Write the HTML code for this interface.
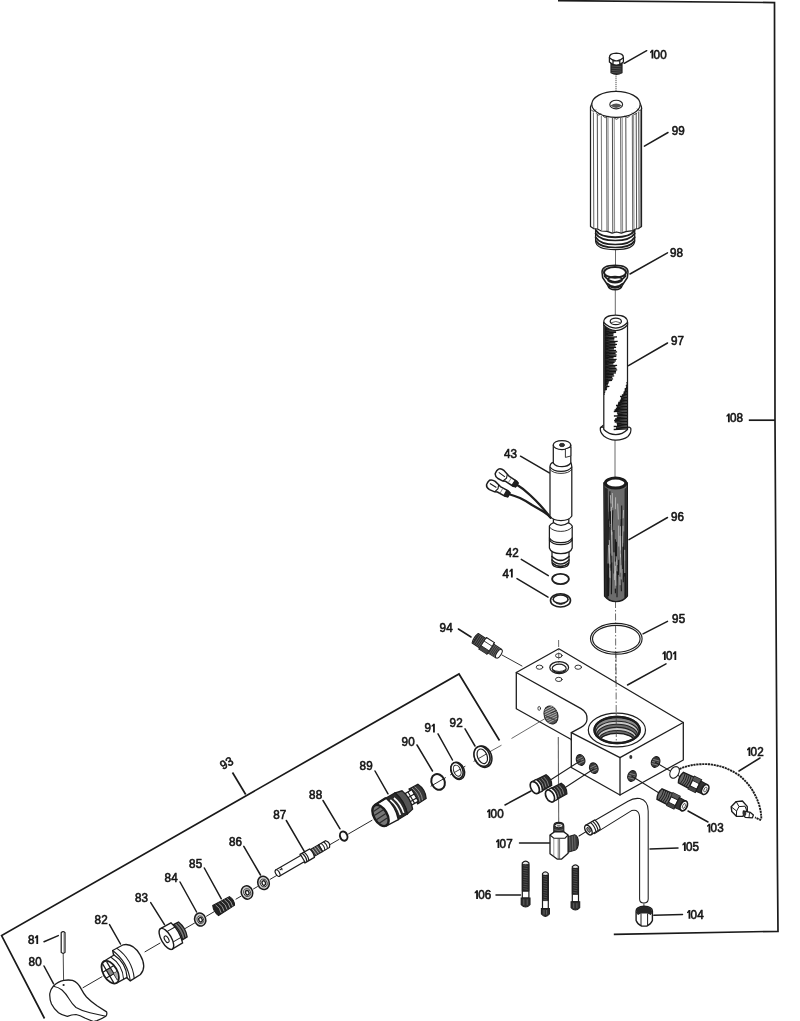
<!DOCTYPE html>
<html><head><meta charset="utf-8"><title>Parts diagram</title>
<style>
html,body{margin:0;padding:0;background:#fff;}
body{width:800px;height:1021px;overflow:hidden;font-family:"Liberation Sans",sans-serif;}
svg{display:block;stroke-width:1.25;filter:blur(0.35px)}
.tx text{font-family:"Liberation Sans",sans-serif;font-size:12.4px;fill:#161616;font-weight:normal;stroke:#161616;stroke-width:0.62;}
.tx path{fill:#161616;stroke:none}
.ld line{stroke:#1c1c1c;stroke-width:1.5;stroke-linecap:round}
.fr polyline,.fr line{stroke:#1a1a1a;stroke-width:1.7;fill:none;stroke-linejoin:miter}
.p{stroke:#1e1e1e;fill:#fff;stroke-linejoin:round;stroke-linecap:round}
.n{stroke:#1e1e1e;fill:none;stroke-linejoin:round;stroke-linecap:round}
.t{stroke:#333;stroke-width:0.7;fill:none;stroke-linecap:round}
.k{stroke:#1e1e1e;fill:#2a2a2a;stroke-linejoin:round}
.c{stroke:#444;stroke-width:0.8;fill:none}
.cd{stroke:#444;stroke-width:0.8;fill:none;stroke-dasharray:7 2 1.5 2}
</style></head>
<body>
<svg width="800" height="1021" viewBox="0 0 800 1021">
<rect width="800" height="1021" fill="#fff"/>

<g class="fr">
<polyline points="558,0.6 774.5,2.6 775,420 777.4,860 778,931.3 613.8,934.3"/>
<line x1="748.8" y1="420.2" x2="775" y2="420.2"/>
<polyline points="44.5,1018.5 1.6,935.6 459,674 499.5,740.5"/>
<line x1="232.5" y1="772.5" x2="245.7" y2="794.5"/>
</g>

<g class="c">
<line x1="616" y1="75.5" x2="616" y2="100" stroke-dasharray="1.3 0.8" stroke="#3a3a3a" stroke-width="0.9"/>
<line x1="615.5" y1="249" x2="615.5" y2="266"/>
<line x1="615.3" y1="289" x2="615.3" y2="315"/>
<line x1="615" y1="440" x2="615" y2="477"/>
<line x1="615.5" y1="601" x2="616" y2="740" class="cd"/>
</g>
<g>
<path class="k" d="M611,63 L611,72.8 Q616.5,75.9 622,72.8 L622,63 Z" stroke-width="1.2"/>
<g stroke="#777" stroke-width="0.5"><line x1="611.5" y1="66" x2="621.5" y2="66.8"/><line x1="611.5" y1="68.2" x2="621.5" y2="69.0"/><line x1="611.5" y1="70.4" x2="621.5" y2="71.2"/><line x1="611.5" y1="72.4" x2="621.5" y2="73.2"/></g>
<path class="p" d="M609.4,57.5 Q609.4,53.4 616.4,53.2 Q623.4,53.4 623.4,57.5 L623.4,62 Q620,65.2 616.4,65 Q612.6,65.2 609.4,62 Z"/>
<path class="n" d="M609.4,57.8 Q612.6,61 616.4,60.8 Q620,61 623.4,57.8 M613,60.4 L613,64.6 M619.8,60.4 L619.8,64.6"/>
</g>
<g>
<path class="p" d="M595.6,226 L595.6,241 Q596,249.6 615.2,249.6 Q634.4,249.6 634.7,241 L634.7,226 Z"/>
<path class="n" stroke-width="1.7" d="M595.6,233.5 Q600,240.5 615.2,240.5 Q630.4,240.5 634.7,233.5 M595.6,237.2 Q600,244.5 615.2,244.5 Q630.4,244.5 634.7,237.2 M596,241 Q600,247.5 615.2,247.5 Q630.4,247.5 634.4,241"/>
<path class="n" stroke-width="2" d="M596,230.5 Q600,237.2 615.2,237.2 Q630.4,237.2 634.4,230.5"/>
<path class="p" d="M592,103 L590.5,107 L590.5,226.5 L593.5,228.6 L597.4,229 L601.3,231 L607.2,231.4 L612.1,233.2 L616.5,232 L621.3,233.2 L625.8,231.6 L632.7,230.6 L635.6,229 L638.5,228.6 L641.5,226.5 L641.5,107 L640,103 Z"/>
<line x1="593.4" y1="112.5" x2="593.8" y2="228" stroke="#3a3a3a" stroke-width="0.8"/>
<line x1="597.3" y1="114.6" x2="597.6999999999999" y2="229" stroke="#3a3a3a" stroke-width="0.9"/>
<line x1="601.3" y1="116" x2="601.6999999999999" y2="230.5" stroke="#3a3a3a" stroke-width="0.7"/>
<line x1="606.6" y1="117.2" x2="607.0" y2="231" stroke="#3a3a3a" stroke-width="0.8"/>
<line x1="608.0" y1="117.4" x2="608.4" y2="231.2" stroke="#3a3a3a" stroke-width="0.6"/>
<line x1="612.4" y1="118" x2="612.8" y2="232.6" stroke="#3a3a3a" stroke-width="0.9"/>
<line x1="614.2" y1="118" x2="614.6" y2="232.6" stroke="#3a3a3a" stroke-width="0.6"/>
<line x1="620.6" y1="118" x2="621.0" y2="232.8" stroke="#3a3a3a" stroke-width="0.8"/>
<line x1="622.2" y1="117.8" x2="622.6" y2="232.6" stroke="#3a3a3a" stroke-width="0.6"/>
<line x1="625.8" y1="117.2" x2="626.1999999999999" y2="231.4" stroke="#3a3a3a" stroke-width="0.9"/>
<line x1="632.3" y1="115" x2="632.6999999999999" y2="230.4" stroke="#3a3a3a" stroke-width="0.8"/>
<line x1="633.6" y1="114.6" x2="634.0" y2="230" stroke="#3a3a3a" stroke-width="0.6"/>
<line x1="636.2" y1="113" x2="636.6" y2="229" stroke="#3a3a3a" stroke-width="0.9"/>
<line x1="638.7" y1="111.5" x2="639.1" y2="228.4" stroke="#3a3a3a" stroke-width="0.9"/>
<line x1="640.3" y1="110" x2="640.6999999999999" y2="227.5" stroke="#3a3a3a" stroke-width="0.7"/>
<ellipse class="p" cx="616" cy="104.3" rx="24.2" ry="13" stroke-width="1.2"/>
<path class="n" stroke-width="0.8" d="M591.3,109.9 Q593.5,113.1 595.7,109.9"/>
<path class="n" stroke-width="0.8" d="M596.4,113.60000000000001 Q598.6,116.8 600.8000000000001,113.60000000000001"/>
<path class="n" stroke-width="0.8" d="M603.3,116.2 Q605.5,119.39999999999999 607.7,116.2"/>
<path class="n" stroke-width="0.8" d="M614.3,117.80000000000001 Q616.5,121.0 618.7,117.80000000000001"/>
<path class="n" stroke-width="0.8" d="M625.1999999999999,116.0 Q627.4,119.19999999999999 629.6,116.0"/>
<path class="n" stroke-width="0.8" d="M632.4,113.0 Q634.6,116.19999999999999 636.8000000000001,113.0"/>
<path class="n" stroke-width="0.8" d="M637.4,109.0 Q639.6,112.19999999999999 641.8000000000001,109.0"/>
<ellipse cx="616.2" cy="104.6" rx="6.4" ry="4.3" fill="#fff" stroke="#222" stroke-width="1.1"/>
<path d="M610.4,105.6 Q616.2,101.5 622,105.6 Q616.2,110.4 610.4,105.6Z" fill="#555"/>
</g>
<g>
<path class="p" stroke-width="1.5" d="M602,272 Q602,265.2 615,265.2 Q628,265.2 628,272 L627.4,277.5 L622.4,285 Q621,289.8 615,289.8 Q609,289.8 607.6,285 L602.6,277.5 Z"/>
<ellipse class="n" cx="615" cy="272.4" rx="11" ry="5.4" stroke-width="2"/>
<path class="n" stroke-width="1.8" d="M604.4,276 Q609,281.8 615,281.8 Q621,281.8 625.6,276"/>
<ellipse class="n" cx="615" cy="279.6" rx="7.2" ry="3" stroke-width="1.7"/>
<path class="n" stroke-width="1.8" d="M607.4,283.6 Q611,287 615,287 Q619,287 622.6,283.6"/>
<path class="n" stroke-width="1.4" d="M609.4,286.4 Q615,289.6 620.6,286.4"/>
</g>
<g>
<path class="p" d="M600.4,428 Q599.6,432 603.8,436 Q609,440.2 616,440 Q623,440 628,436.4 Q631.6,432.5 630.8,428.4 Q629,426 627.4,428 L603.8,428 Q601.6,425.8 600.4,428Z"/>
<path class="p" d="M603.8,322.5 L603.8,429.5 Q609,434.6 615.7,434.6 Q622.4,434.6 627.5,429.5 L627.5,322.5 Z"/>
<path d="M604.2,327.0 L614.3,326.3 M604.2,328.5 L615.7,327.8 M604.2,330.0 L614.9,329.3 M604.2,331.5 L616.0,330.8 M604.2,333.0 L616.1,332.3 M604.2,334.5 L613.6,333.8 M604.2,336.0 L613.4,335.3 M604.2,337.5 L617.0,336.8 M604.2,339.0 L614.4,338.3 M604.2,340.5 L614.3,339.8 M604.2,342.0 L617.7,341.3 M604.2,343.5 L615.4,342.8 M604.2,345.0 L617.0,344.3 M604.2,346.5 L615.4,345.8 M604.2,348.0 L616.1,347.3 M604.2,349.5 L614.0,348.8 M604.2,351.0 L616.1,350.3 M604.2,352.5 L617.1,351.8 M604.2,354.0 L615.6,353.3 M604.2,355.5 L616.6,354.8 M604.2,357.0 L616.3,356.3 M604.2,358.5 L613.6,357.8 M604.2,360.0 L616.6,359.3 M604.2,361.5 L615.9,360.8 M604.2,363.0 L614.6,362.3 M604.2,364.5 L613.4,363.8 M604.2,366.0 L617.1,365.3 M604.2,367.5 L615.4,366.8 M604.2,369.0 L616.5,368.3 M604.2,370.5 L617.2,369.8 M604.2,372.0 L616.1,371.3 M604.2,373.5 L616.0,372.8 M604.2,375.0 L613.7,374.3 M604.2,376.5 L614.2,375.8 M604.2,378.0 L612.3,377.3 M604.2,379.5 L613.1,378.8 M604.2,381.0 L612.1,380.3 M604.2,382.5 L609.0,381.8 M604.2,384.0 L608.4,383.3 M604.2,385.5 L607.9,384.8 M604.2,387.0 L609.4,386.3 M604.2,388.5 L607.1,387.8 M604.2,390.0 L606.9,389.3 M604.2,391.5 L605.2,390.8 M604.2,393.0 L605.0,392.3 M604.2,394.5 L604.5,393.8" stroke="#151515" stroke-width="1.35" fill="none"/>
<path d="M626.6,383.0 L627.2,382.4 M626.5,384.5 L627.2,383.9 M625.8,386.0 L627.2,385.4 M625.9,387.5 L627.2,386.9 M624.7,389.0 L627.2,388.4 M624.6,390.5 L627.2,389.9 M623.7,392.0 L627.2,391.4 M623.3,393.5 L627.2,392.9 M621.9,395.0 L627.2,394.4 M620.0,396.5 L627.2,395.9 M621.0,398.0 L627.2,397.4 M620.5,399.5 L627.2,398.9 M619.7,401.0 L627.2,400.4 M618.2,402.5 L627.2,401.9 M617.9,404.0 L627.2,403.4 M616.0,405.5 L627.2,404.9 M616.8,407.0 L627.2,406.4 M615.8,408.5 L627.2,407.9 M614.6,410.0 L627.2,409.4 M613.8,411.5 L627.2,410.9 M616.9,413.0 L627.2,412.4 M617.5,414.5 L627.2,413.9 M613.9,416.0 L627.2,415.4 M616.7,417.5 L627.2,416.9 M615.1,419.0 L627.2,418.4 M614.1,420.5 L627.2,419.9 M614.7,422.0 L627.2,421.4 M616.6,423.5 L627.2,422.9 M617.0,425.0 L627.2,424.4 M613.7,426.5 L627.2,425.9 M616.0,428.0 L627.2,427.4 M613.7,429.5 L627.2,428.9" stroke="#151515" stroke-width="1.35" fill="none"/>
<path class="p" d="M603.8,322.5 Q603.8,315.2 615.7,315.2 Q627.5,315.2 627.5,322.5 L627.5,325 Q622.4,330.5 615.7,330.5 Q609,330.5 603.8,325 Z"/>
<path class="n" d="M603.8,322.5 Q609,328 615.7,328 Q622.4,328 627.5,322.5"/>
<ellipse class="p" cx="615.8" cy="321.4" rx="5.6" ry="3.3" stroke-width="1.3"/>
<path class="n" stroke-width="0.7" d="M611.4,322.6 Q615.8,320.2 620.2,322.6"/>
<path class="n" d="M600.4,428 L603,425.4"/>
</g>
<g>
<path d="M603.9,483 L604.6,596 Q609,601.6 616,601.6 Q623,601.6 627.4,596 L627.3,483 Z" fill="#6c6c6c" stroke="#1b1b1b" stroke-width="1.4"/>
<path d="M604.6,487 L605.2,596 Q606.6,598 608.4,599 L607.8,489Z" fill="#262626"/>
<path d="M626.8,487 L626.8,596 Q625.6,598 624.4,598.8 L624.6,489Z" fill="#2c2c2c"/>
<path d="M615.4,539.3 L615.3,581.8 M616.4,541.7 L616.4,559.8 M618.7,559.8 L618.3,574.9 M608.7,561.2 L607.9,596.1 M625.2,574.9 L625.4,598.0 M609.9,491.3 L609.2,520.8 M610.5,511.3 L610.5,524.3 M615.1,564.1 L615.4,593.3 M616.2,548.3 L615.9,575.4 M625.5,577.6 L625.8,598.0 M612.8,510.2 L612.1,531.7 M621.2,525.2 L621.0,565.2 M624.7,564.6 L624.3,576.6 M623.8,531.4 L623.7,575.7 M608.4,545.4 L608.0,583.1 M608.6,519.3 L609.0,563.1 M609.2,511.7 L608.5,527.0 M621.7,505.6 L621.7,536.1 M610.5,554.4 L610.8,570.7 M609.2,527.0 L608.8,546.1 M625.0,560.7 L625.6,582.7 M610.9,524.7 L611.1,564.9 M608.9,577.1 L608.5,596.1 M621.3,518.9 L620.6,540.7 M608.7,541.3 L608.8,561.3 M613.9,529.9 L613.9,573.5 M617.6,566.3 L617.1,584.3 M623.8,562.0 L623.3,582.2 M620.7,572.8 L621.4,591.2 M623.3,543.1 L622.7,569.0 M607.7,574.7 L608.0,594.6 M611.8,562.5 L611.4,594.2 M610.2,553.4 L609.8,567.7 M617.3,565.0 L617.0,597.3" stroke="#1a1a1a" stroke-width="1.1" fill="none"/>
<path d="M623.6,510.0 L623.2,518.3 M615.6,497.3 L615.4,509.2 M617.7,503.6 L618.4,519.5 M624.7,549.8 L624.8,573.0 M610.4,495.1 L611.0,503.5 M619.9,576.7 L620.1,585.2 M616.2,556.3 L617.0,571.3 M609.3,540.1 L609.9,564.3 M620.5,553.9 L621.2,579.4 M614.0,552.3 L614.6,580.1 M615.1,561.6 L615.2,588.6 M618.6,525.6 L618.8,546.5 M609.4,548.3 L610.0,578.1 M620.4,526.2 L620.5,550.4 M615.5,565.8 L615.9,575.6 M608.5,544.9 L608.1,563.5 M619.9,535.8 L620.5,557.3 M612.3,493.0 L612.6,507.6 M611.4,506.9 L611.7,534.9 M615.5,570.5 L615.8,585.7 M611.4,529.9 L612.0,555.7 M623.0,525.8 L622.7,546.7" stroke="#c4c4c4" stroke-width="0.8" fill="none"/>
<ellipse cx="615.6" cy="483.1" rx="10.3" ry="5" fill="#fff" stroke="#1b1b1b" stroke-width="3"/>
</g>
<ellipse class="n" cx="616.3" cy="638.8" rx="25.8" ry="15.4" stroke-width="1.15"/>
<ellipse class="n" cx="616.3" cy="638.8" rx="23.8" ry="13.5" stroke-width="1.15"/><g>
<path class="n" stroke-width="2.3" d="M516.5,484.5 Q524,489 530,495 Q536,500.6 540,505 Q545,510.6 550.6,517.6"/>
<path class="n" stroke-width="2.3" d="M508.5,494 Q515,496 520,498 Q527,501.4 532,505 Q539,509 544,512 Q548,514.6 550.6,517.6"/>
<g transform="translate(517.4,485.2) rotate(33)"><path d="M-24.6,-3.2 Q-23,-5.4 -19,-5 L-14.4,-3.8 L-12,-3 L-3,-3 L-0.6,-2.2 L-0.6,2.4 L-3,3.2 L-12,3.2 L-14.4,4.4 L-20,5 Q-24,4.8 -25,2 Q-25.6,-1 -24.6,-3.2Z" fill="#fff" stroke="#1c1c1c" stroke-width="1.5" stroke-linejoin="round"/><path d="M-22.6,-0.6 L-15,-0.2 M-14.4,-3.8 L-13,0 L-14.4,4.4" fill="none" stroke="#1c1c1c" stroke-width="1.1"/><path d="M-4.6,-3 L-0.6,-2.2 L-0.6,2.4 L-4.6,3.2Z" fill="#222" stroke="#1c1c1c" stroke-width="1"/><path d="M-9,-3 L-9,3.2" stroke="#666" stroke-width="0.7"/></g>
<g transform="translate(509.4,495) rotate(29)"><path d="M-24.6,-3.2 Q-23,-5.4 -19,-5 L-14.4,-3.8 L-12,-3 L-3,-3 L-0.6,-2.2 L-0.6,2.4 L-3,3.2 L-12,3.2 L-14.4,4.4 L-20,5 Q-24,4.8 -25,2 Q-25.6,-1 -24.6,-3.2Z" fill="#fff" stroke="#1c1c1c" stroke-width="1.5" stroke-linejoin="round"/><path d="M-22.6,-0.6 L-15,-0.2 M-14.4,-3.8 L-13,0 L-14.4,4.4" fill="none" stroke="#1c1c1c" stroke-width="1.1"/><path d="M-4.6,-3 L-0.6,-2.2 L-0.6,2.4 L-4.6,3.2Z" fill="#222" stroke="#1c1c1c" stroke-width="1"/><path d="M-9,-3 L-9,3.2" stroke="#666" stroke-width="0.7"/></g>
<path class="p" d="M552,549 L552,562 Q552,567.6 560.5,567.6 Q569,567.6 569,562 L569,549 Z"/>
<path class="n" stroke-width="1.7" d="M552,556.5 Q556,560.4 560.5,560.4 Q565,560.4 569,556.5 M552,560 Q556,564 560.5,564 Q565,564 569,560 M552.4,563 Q556,566.4 560.5,566.4 Q565,566.4 568.6,563"/>
<path class="p" d="M549.4,526 L549.4,548 Q551,553.6 560.8,553.6 Q570.6,553.6 572.2,548 L572.2,526 Q570,521.6 560.8,521.6 Q551.6,521.6 549.4,526Z"/>
<path class="n" d="M549.4,538 Q552,542.6 560.8,542.6 Q569.6,542.6 572.2,538 M549.4,540 Q552,544.6 560.8,544.6 Q569.6,544.6 572.2,540" stroke-width="1.3"/>
<path class="n" d="M549.4,527 Q553,531.4 560.8,531.4 Q568.6,531.4 572.2,527" stroke-width="0.9"/>
<path class="p" d="M553.4,516 L553.4,522.6 Q557,525.4 561,525.4 Q565,525.4 568.8,522.6 L568.8,516Z"/>
<path class="p" d="M550,467 L550,516 Q553,520.6 561,520.6 Q569,520.6 571.8,516 L571.8,467 Z"/>
<path class="n" d="M550,469.4 Q553,473.4 561,473.4 Q569,473.4 571.8,469.4" stroke-width="0.9"/>
<path class="p" d="M550,467 Q550,463 553.4,462.4 L570.6,462.4 Q571.8,464 571.8,467 Q569,471.4 561,471.4 Q553,471.4 550,467Z"/>
<path class="p" d="M553.3,445 L553.3,463 Q556,466.6 562,466.6 Q568,466.6 570.8,463 L570.8,445 Z"/>
<ellipse class="p" cx="562" cy="445" rx="8.75" ry="4.5"/>
<ellipse cx="562" cy="445" rx="2.6" ry="1.7" fill="#333" stroke="#222" stroke-width="0.8"/>
<path class="p" d="M565.4,449.2 L565.4,457.4 L570.8,456 L570.8,447.4Z" stroke-width="0.9"/>
</g>
<ellipse class="n" cx="560.5" cy="579" rx="8.4" ry="5.1" stroke-width="1.9"/>
<ellipse class="p" cx="560.5" cy="600.4" rx="10" ry="6.6" stroke-width="1.6"/>
<ellipse class="n" cx="560.6" cy="599.2" rx="7.4" ry="4.2" stroke-width="1.5"/>
<path class="n" d="M552.8,600 Q556,604.6 560.6,604.6 Q565,604.6 568.4,600" stroke-width="0.9"/>
<line class="n" x1="502" y1="655" x2="522" y2="666" stroke-width="0.9"/>
<g transform="translate(487.8,646.5) rotate(33) scale(0.86)">
<path class="p" d="M-17.5,-6.6 L-7,-6.6 L-7,-8 L4,-8 L4,-6 L15,-6 Q18,0 15,6 L4,6 L4,8 L-7,8 L-7,6.6 L-17.5,6.6 Q-20,0 -17.5,-6.6Z"/>
<path d="M-17,-6.4 L-7,-6.4 L-7,6.4 L-17,6.4 Q-19.4,0 -17,-6.4Z" fill="#2a2a2a"/>
<path d="M4,-5.8 L13,-5.8 L13,5.8 L4,5.8Z" fill="#333"/>
<g stroke="#888" stroke-width="0.6"><line x1="-15" y1="-6" x2="-15" y2="6"/><line x1="-12.8" y1="-6" x2="-12.8" y2="6"/><line x1="-10.6" y1="-6" x2="-10.6" y2="6"/><line x1="-8.6" y1="-6" x2="-8.6" y2="6"/><line x1="6" y1="-6" x2="6" y2="6"/><line x1="8" y1="-6" x2="8" y2="6"/><line x1="10" y1="-6" x2="10" y2="6"/><line x1="12" y1="-6" x2="12" y2="6"/></g>
<path d="M-7,3.4 L4,3.4 L4,8 L-7,8Z" fill="#444"/>
<path class="n" d="M-7,-8 L-7,8 M4,-8 L4,8 M-7,-3 L4,-3 M-7,3.4 L4,3.4" stroke-width="0.9"/>
<ellipse class="p" cx="15.4" cy="0" rx="2.6" ry="5.8"/>
</g>
<g>
<path d="M558.8,648.8 L516.3,672.5 L516.3,708.8 L571.3,739.5 L571.3,767.5 L620,795 L683.3,760 L683.3,722.5 Z" fill="#fff" stroke="none"/>
<path class="n" stroke-width="1.3" d="M558.8,648.8 L516.3,672.5 L516.3,708.8 L571.3,739.5 L571.3,767.5 L620,795 L683.3,760 L683.3,722.5 Z"/>
<path class="n" stroke-width="1.3" d="M516.3,672.5 L581,708.6 Q587.6,712.4 587,719.5 Q586.6,724.4 581,727.4 L571.3,732.6 L620,757.6 L683.3,722.5"/>
<path class="n" stroke-width="1.3" d="M571.3,732.6 L571.3,740 M620,757.6 L620,795"/>
<ellipse class="p" cx="616.9" cy="730" rx="28.6" ry="16.9" stroke-width="1.2"/>
<ellipse cx="617.1" cy="730" rx="22.6" ry="13" fill="#fff" stroke="#1c1c1c" stroke-width="2.3"/>
<clipPath id="bc"><ellipse cx="617.1" cy="730" rx="21.6" ry="12"/></clipPath>
<g clip-path="url(#bc)">
<rect x="590" y="714" width="56" height="24" fill="#8a8a8a"/>
<ellipse cx="617.1" cy="732.6" rx="21.4" ry="11.4" fill="#c8c8c8" stroke="#222" stroke-width="1.1"/>
<ellipse cx="617.1" cy="735.2" rx="20.5" ry="10.9" fill="#6a6a6a" stroke="#222" stroke-width="1.1"/>
<ellipse cx="617.1" cy="737.8000000000001" rx="19.599999999999998" ry="10.4" fill="#c8c8c8" stroke="#222" stroke-width="1.1"/>
<ellipse cx="617.1" cy="740.4" rx="18.7" ry="9.9" fill="#6a6a6a" stroke="#222" stroke-width="1.1"/>
<ellipse cx="617.1" cy="743.0" rx="17.799999999999997" ry="9.4" fill="#c8c8c8" stroke="#222" stroke-width="1.1"/>
<ellipse cx="617" cy="741" rx="17.2" ry="7.6" fill="#fff" stroke="#1c1c1c" stroke-width="1.4"/>
</g>
<ellipse cx="617.1" cy="730" rx="22.6" ry="13" fill="none" stroke="#1c1c1c" stroke-width="2.3"/>
<ellipse class="p" cx="559.2" cy="667.6" rx="9.4" ry="6"/>
<ellipse class="n" cx="559.2" cy="668.4" rx="7" ry="4.2" stroke-width="1.2"/>
<path class="n" stroke-width="0.9" d="M552.6,669.6 Q559,673.6 565.8,669.6"/>
<ellipse class="p" cx="558.8" cy="655.6" rx="3.3" ry="2.1" stroke-width="0.9"/>
<ellipse class="p" cx="539.5" cy="667.2" rx="3.3" ry="2.1" stroke-width="0.9"/>
<ellipse class="p" cx="578.2" cy="667.2" rx="3.3" ry="2.1" stroke-width="0.9"/>
<ellipse class="p" cx="558.8" cy="679.4" rx="3.3" ry="2.1" stroke-width="0.9"/>
<ellipse cx="551" cy="715" rx="6.8" ry="9.2" fill="#555" stroke="#222" stroke-width="1.1" transform="rotate(-18 551 715)"/>
<g stroke="#ddd" stroke-width="0.6" transform="rotate(-18 551 715)"><line x1="546.1" y1="708.4" x2="555.9" y2="706.8"/><line x1="545.6" y1="710.6" x2="556.4" y2="709.0"/><line x1="545.1" y1="712.8" x2="556.9" y2="711.1999999999999"/><line x1="544.6" y1="715.0" x2="557.4" y2="713.4"/><line x1="545.1" y1="717.2" x2="556.9" y2="715.6"/><line x1="545.6" y1="719.4" x2="556.4" y2="717.8"/><line x1="546.1" y1="721.6" x2="555.9" y2="720.0"/></g>
<path class="n" stroke="#eee" stroke-width="0.7" d="M546,716 L555,720 M551,713 L556,711"/>
<ellipse class="p" cx="539.2" cy="708.4" rx="1.3" ry="2" stroke-width="0.8"/>
<g transform="rotate(-20 580.6 760)"><ellipse cx="580.6" cy="760" rx="4.1" ry="5.4" fill="#3a3a3a" stroke="#1c1c1c" stroke-width="1.2"/><line x1="577.5" y1="758.4" x2="583.7" y2="757.8" stroke="#aaa" stroke-width="0.6"/><line x1="577.1" y1="760.6" x2="584.1" y2="760" stroke="#aaa" stroke-width="0.6"/><line x1="577.5" y1="762.8" x2="583.7" y2="762.2" stroke="#aaa" stroke-width="0.6"/></g>
<g transform="rotate(-20 593.8 768.2)"><ellipse cx="593.8" cy="768.2" rx="4.1" ry="5.4" fill="#3a3a3a" stroke="#1c1c1c" stroke-width="1.2"/><line x1="590.6999999999999" y1="766.6" x2="596.9" y2="766.0" stroke="#aaa" stroke-width="0.6"/><line x1="590.3" y1="768.8000000000001" x2="597.3" y2="768.2" stroke="#aaa" stroke-width="0.6"/><line x1="590.6999999999999" y1="771.0" x2="596.9" y2="770.4000000000001" stroke="#aaa" stroke-width="0.6"/></g>
<g transform="rotate(20 655.6 762)"><ellipse cx="655.6" cy="762" rx="4.1" ry="5.4" fill="#3a3a3a" stroke="#1c1c1c" stroke-width="1.2"/><line x1="652.5" y1="760.4" x2="658.7" y2="759.8" stroke="#aaa" stroke-width="0.6"/><line x1="652.1" y1="762.6" x2="659.1" y2="762" stroke="#aaa" stroke-width="0.6"/><line x1="652.5" y1="764.8" x2="658.7" y2="764.2" stroke="#aaa" stroke-width="0.6"/></g>
<g transform="rotate(20 632 776)"><ellipse cx="632" cy="776" rx="4.1" ry="5.4" fill="#3a3a3a" stroke="#1c1c1c" stroke-width="1.2"/><line x1="628.9" y1="774.4" x2="635.1" y2="773.8" stroke="#aaa" stroke-width="0.6"/><line x1="628.5" y1="776.6" x2="635.5" y2="776" stroke="#aaa" stroke-width="0.6"/><line x1="628.9" y1="778.8" x2="635.1" y2="778.2" stroke="#aaa" stroke-width="0.6"/></g>
<ellipse cx="630.8" cy="757" rx="1.5" ry="1.9" fill="#333"/>
</g>
<g class="c">
<line x1="616" y1="655" x2="616.3" y2="742" class="cd"/>
<line x1="558.6" y1="640" x2="558.8" y2="664" class="cd"/>
<line x1="558.3" y1="737" x2="558.7" y2="822" stroke-width="1.1" stroke="#666"/>
<line x1="546" y1="718" x2="511.5" y2="738.5"/>
<line x1="501.5" y1="745.2" x2="490" y2="751.6"/>
</g><g class="n" stroke-width="1.05">
<line x1="550.4" y1="780" x2="580.4" y2="760.8"/>
<line x1="566" y1="787" x2="594" y2="768.8"/>
<line x1="655.4" y1="762.2" x2="680" y2="776.6"/>
<line x1="631.6" y1="776" x2="659" y2="793"/>
<line x1="579" y1="836" x2="586.5" y2="831.4"/>
</g>
<g transform="translate(534.8,787.6) rotate(-28)"><path d="M4,-6.4 L16,-6 Q19.4,0 16,6 L4,6.4Z" fill="#2a2a2a" stroke="#1c1c1c" stroke-width="1.2"/><g stroke="#999" stroke-width="0.7"><path d="M7.4,-5 Q9.4,0 7.4,5" fill="none"/><path d="M10.2,-5 Q12.2,0 10.2,5" fill="none"/><path d="M13,-5 Q15,0 13,5" fill="none"/></g><path d="M0,-6.5 L5,-6.5 Q8.6,0 5,6.5 L0,6.5Z" fill="#fff" stroke="#1c1c1c" stroke-width="1.3"/><ellipse cx="0" cy="0" rx="3.9" ry="6.5" fill="#fff" stroke="#1c1c1c" stroke-width="1.7"/></g>
<g transform="translate(550,796) rotate(-28)"><path d="M4,-6.4 L16,-6 Q19.4,0 16,6 L4,6.4Z" fill="#2a2a2a" stroke="#1c1c1c" stroke-width="1.2"/><g stroke="#999" stroke-width="0.7"><path d="M7.4,-5 Q9.4,0 7.4,5" fill="none"/><path d="M10.2,-5 Q12.2,0 10.2,5" fill="none"/><path d="M13,-5 Q15,0 13,5" fill="none"/></g><path d="M0,-6.5 L5,-6.5 Q8.6,0 5,6.5 L0,6.5Z" fill="#fff" stroke="#1c1c1c" stroke-width="1.3"/><ellipse cx="0" cy="0" rx="3.9" ry="6.5" fill="#fff" stroke="#1c1c1c" stroke-width="1.7"/></g>
<g>
<path d="M553.8,826 L553.8,838 L563.8,838 L563.8,826 Q563.8,822.4 558.8,822.4 Q553.8,822.4 553.8,826Z" fill="#333" stroke="#1c1c1c" stroke-width="1.1"/>
<path d="M554.4,829.6 Q558.8,831.6 563.2,829.6 M554.4,832.4 Q558.8,834.4 563.2,832.4" stroke="#888" stroke-width="0.6" fill="none"/>
<ellipse cx="558.8" cy="825.6" rx="4" ry="2.2" fill="#e8e8e8" stroke="#1c1c1c" stroke-width="1"/>
<ellipse cx="558.8" cy="825.8" rx="2" ry="1" fill="#777"/>
<path d="M567,837 L574.6,834.8 Q578.4,836 578.4,842.6 Q578.4,848.4 575.4,850 L567,852.6Z" fill="#3a3a3a" stroke="#1c1c1c" stroke-width="1.1"/>
<path d="M569.6,836.6 L570.2,851.4 M572.2,835.8 L572.8,850.6 M574.6,835.4 L575.2,849.8" stroke="#888" stroke-width="0.6" fill="none"/>
<path d="M550,835 L554.4,831.9 L563.8,831.9 L568.1,835 L568.1,853.2 L561.4,859.2 L557.4,859.2 L550,853.8Z" fill="#fff" stroke="#1c1c1c" stroke-width="1.3" stroke-linejoin="round"/>
<path d="M550,835 L553.8,838.2 L565,838.2 L568.1,835" fill="none" stroke="#1c1c1c" stroke-width="1.1"/>
<path d="M553.8,838.2 L553.8,856.4" stroke="#555" stroke-width="0.6" fill="none"/>
<path d="M558.2,838.6 L558.2,859 M559.6,838.6 L559.6,859" stroke="#333" stroke-width="0.7" fill="none"/>
</g>
<path d="M522.3000000000001,862.9 Q525.6,859.5 528.9,862.9 L528.9,898 L522.3000000000001,898Z" fill="#fff" stroke="#1c1c1c" stroke-width="1.2"/><path d="M522.3000000000001,864.3 L528.9,864.3 L528.9,891.3 L522.3000000000001,891.3Z" fill="#262626" stroke="#1c1c1c" stroke-width="0.8"/><path d="M523.3000000000001,865.7 L527.6999999999999,866.4 M523.3000000000001,868.0 L527.6999999999999,868.7 M523.3000000000001,870.3 L527.6999999999999,871.0 M523.3000000000001,872.6 L527.6999999999999,873.3 M523.3000000000001,874.9 L527.6999999999999,875.6 M523.3000000000001,877.2 L527.6999999999999,877.9 M523.3000000000001,879.5 L527.6999999999999,880.2 M523.3000000000001,881.8 L527.6999999999999,882.5 M523.3000000000001,884.1 L527.6999999999999,884.8 M523.3000000000001,886.4 L527.6999999999999,887.1 M523.3000000000001,888.7 L527.6999999999999,889.4" stroke="#777" stroke-width="0.5" fill="none"/><ellipse cx="525.6" cy="863.3" rx="1.6999999999999997" ry="1" fill="#ddd"/><path d="M521.2,898 L530.0,898 L530.0,904.6 Q525.6,909.4 521.2,904.6Z" fill="#2e2e2e" stroke="#1c1c1c" stroke-width="1.1"/><path d="M523.8000000000001,899.4 L523.8000000000001,905.2 M527.2,899.4 L527.2,905.2" stroke="#888" stroke-width="0.6" fill="none"/>
<path d="M542.5,873.6 Q545.4,870.2 548.3,873.6 L548.3,908.6 L542.5,908.6Z" fill="#fff" stroke="#1c1c1c" stroke-width="1.2"/><path d="M542.5,875 L548.3,875 L548.3,900.6 L542.5,900.6Z" fill="#262626" stroke="#1c1c1c" stroke-width="0.8"/><path d="M543.5,876.4 L547.0999999999999,877.1 M543.5,878.7 L547.0999999999999,879.4 M543.5,881.0 L547.0999999999999,881.7 M543.5,883.3 L547.0999999999999,884.0 M543.5,885.6 L547.0999999999999,886.3 M543.5,887.9 L547.0999999999999,888.6 M543.5,890.2 L547.0999999999999,890.9 M543.5,892.5 L547.0999999999999,893.2 M543.5,894.8 L547.0999999999999,895.5 M543.5,897.1 L547.0999999999999,897.8 M543.5,899.4 L547.0999999999999,900.1" stroke="#777" stroke-width="0.5" fill="none"/><ellipse cx="545.4" cy="874" rx="1.2999999999999998" ry="1" fill="#ddd"/><path d="M541.4,908.6 L549.4,908.6 L549.4,914.0 Q545.4,918.8 541.4,914.0Z" fill="#2e2e2e" stroke="#1c1c1c" stroke-width="1.1"/><path d="M544.0,910.0 L544.0,914.6 M546.6,910.0 L546.6,914.6" stroke="#888" stroke-width="0.6" fill="none"/>
<path d="M572.3,866.6 Q575.4,863.2 578.5,866.6 L578.5,901.8 L572.3,901.8Z" fill="#fff" stroke="#1c1c1c" stroke-width="1.2"/><path d="M572.3,868 L578.5,868 L578.5,894.4 L572.3,894.4Z" fill="#262626" stroke="#1c1c1c" stroke-width="0.8"/><path d="M573.3,869.4 L577.3,870.1 M573.3,871.7 L577.3,872.4 M573.3,874.0 L577.3,874.7 M573.3,876.3 L577.3,877.0 M573.3,878.6 L577.3,879.3 M573.3,880.9 L577.3,881.6 M573.3,883.2 L577.3,883.9 M573.3,885.5 L577.3,886.2 M573.3,887.8 L577.3,888.5 M573.3,890.1 L577.3,890.8 M573.3,892.4 L577.3,893.1" stroke="#777" stroke-width="0.5" fill="none"/><ellipse cx="575.4" cy="867" rx="1.5" ry="1" fill="#ddd"/><path d="M571.1,901.8 L579.6999999999999,901.8 L579.6999999999999,907.6 Q575.4,912.4 571.1,907.6Z" fill="#2e2e2e" stroke="#1c1c1c" stroke-width="1.1"/><path d="M573.7,903.1999999999999 L573.7,908.2 M576.9,903.1999999999999 L576.9,908.2" stroke="#888" stroke-width="0.6" fill="none"/>
<g>
<path class="p" stroke-width="1.05" d="M588.8,824 L628,801.2 Q634,797.6 639.8,798.6 Q648.2,800.6 648.2,811 L648.2,899 Q648.2,903 643.8,903 Q639.6,903 639.6,899 L639.6,818.5 Q639.6,808.6 631.6,810.6 L594.6,833.6 Z"/>
<g transform="translate(588.4,830) rotate(-31)">
<path d="M0,-5.4 L10.6,-5.4 Q12.6,0 10.6,5.4 L0,5.4Z" fill="#fff" stroke="#1c1c1c" stroke-width="1.2"/>
<path d="M5.6,-5.4 Q7.6,0 5.6,5.4 M8,-5.4 Q10,0 8,5.4" stroke="#1c1c1c" stroke-width="1" fill="none"/>
<ellipse cx="0" cy="0" rx="2.9" ry="5.4" fill="#fff" stroke="#1c1c1c" stroke-width="1.5"/>
<ellipse cx="0.2" cy="0" rx="1.3" ry="2.8" fill="#888" stroke="#1c1c1c" stroke-width="0.8"/>
</g>
</g>
<g>
<line x1="643.9" y1="903.4" x2="643.9" y2="906.4" stroke="#333" stroke-width="0.9"/>
<path d="M636.1,911 Q636.1,906.8 644.2,906.2 Q652.4,906.8 652.4,911 L652.4,920.4 Q651,924 646.8,926.1 L641.6,926.1 Q637.4,924 636.1,920.4 Z" fill="#fff" stroke="#1c1c1c" stroke-width="1.4" stroke-linejoin="round"/>
<path d="M636.4,911.4 Q636.4,907 644.2,906.5 Q652,907 652.1,911.4 L650.4,914.8 L647.6,913.4 L641,913.4 L638.2,914.8Z" fill="#262626"/>
<path d="M641,913.4 L641,925.6 M647.6,913.4 L647.6,925.6 M638.2,914.8 L636.4,912 M650.4,914.8 L652.2,912" fill="none" stroke="#1c1c1c" stroke-width="1"/>
</g>
<g transform="translate(694.4,784.2) rotate(26)"><path d="M-15,-5.8 L-3,-6.2 L-3,6.2 L-15,5.8 Q-17.6,0 -15,-5.8Z" fill="#6a6a6a" stroke="#1c1c1c" stroke-width="1.4"/><g stroke="#1c1c1c" stroke-width="0.9"><path d="M-13,-5.8 Q-11.4,0 -13,5.8" fill="none"/><path d="M-10.8,-5.8 Q-9.200000000000001,0 -10.8,5.8" fill="none"/><path d="M-8.6,-5.8 Q-7.0,0 -8.6,5.8" fill="none"/><path d="M-6.4,-5.8 Q-4.800000000000001,0 -6.4,5.8" fill="none"/></g><path d="M-3.4,-7 L4.4,-7 L4.4,7 L-3.4,7Z" fill="#fff" stroke="#1c1c1c" stroke-width="1.3"/><path d="M-3.4,-7 L4.4,-7 L4.4,-2.6 L-3.4,-2.6Z" fill="#555"/><path d="M-3.4,3.4 L4.4,3.4 L4.4,7 L-3.4,7Z" fill="#444"/><path d="M-3.4,-2.6 L4.4,-2.6 M-3.4,3.4 L4.4,3.4" stroke="#1c1c1c" stroke-width="0.9" fill="none"/><path d="M4.4,-5.6 L11,-5.2 L11,5.2 L4.4,5.6Z" fill="#333" stroke="#1c1c1c" stroke-width="1.2"/><ellipse cx="12" cy="0" rx="3.2" ry="5.3" fill="#fff" stroke="#1c1c1c" stroke-width="1.7"/><ellipse cx="12.2" cy="0" rx="1.3" ry="2.6" fill="#fff" stroke="#444" stroke-width="0.8"/></g>
<g transform="translate(673,800.6) rotate(26)"><path d="M-15,-5.8 L-3,-6.2 L-3,6.2 L-15,5.8 Q-17.6,0 -15,-5.8Z" fill="#6a6a6a" stroke="#1c1c1c" stroke-width="1.4"/><g stroke="#1c1c1c" stroke-width="0.9"><path d="M-13,-5.8 Q-11.4,0 -13,5.8" fill="none"/><path d="M-10.8,-5.8 Q-9.200000000000001,0 -10.8,5.8" fill="none"/><path d="M-8.6,-5.8 Q-7.0,0 -8.6,5.8" fill="none"/><path d="M-6.4,-5.8 Q-4.800000000000001,0 -6.4,5.8" fill="none"/></g><path d="M-3.4,-7 L4.4,-7 L4.4,7 L-3.4,7Z" fill="#fff" stroke="#1c1c1c" stroke-width="1.3"/><path d="M-3.4,-7 L4.4,-7 L4.4,-2.6 L-3.4,-2.6Z" fill="#555"/><path d="M-3.4,3.4 L4.4,3.4 L4.4,7 L-3.4,7Z" fill="#444"/><path d="M-3.4,-2.6 L4.4,-2.6 M-3.4,3.4 L4.4,3.4" stroke="#1c1c1c" stroke-width="0.9" fill="none"/><path d="M4.4,-5.6 L11,-5.2 L11,5.2 L4.4,5.6Z" fill="#333" stroke="#1c1c1c" stroke-width="1.2"/><ellipse cx="12" cy="0" rx="3.2" ry="5.3" fill="#fff" stroke="#1c1c1c" stroke-width="1.7"/><ellipse cx="12.2" cy="0" rx="1.3" ry="2.6" fill="#fff" stroke="#444" stroke-width="0.8"/></g>
<ellipse class="p" cx="674.6" cy="772.4" rx="4.3" ry="6.2" transform="rotate(30 674.6 772.4)" stroke-width="1.1"/>
<path d="M679.4,769 Q688,765.4 695,764.7 Q703,763.8 710,764.3 Q718,765.4 725,767.8 Q733,771 740,776 Q747,782 752,789.5 Q757,797.6 759.5,806 Q761.2,812.6 761.3,818 L760.2,819.8 L755,817.4" fill="none" stroke="#1c1c1c" stroke-width="1.9" stroke-dasharray="2.2 0.7"/>
<g>
<path d="M731.2,806.8 L736.2,801.6 L742.4,801 L747.2,806.4 L747.4,812.4 L742.6,816.4 L736.4,816.2 L731.8,811.6Z" fill="#fff" stroke="#1c1c1c" stroke-width="1.4" stroke-linejoin="round"/>
<path d="M736.2,801.6 L739,806.6 L745,806.2 M739,806.6 L736.6,811 L736.4,816.2 M731.2,806.8 L736.6,811 M745,806.2 L747.4,812.4" fill="none" stroke="#1c1c1c" stroke-width="1"/>
<path d="M743.4,811 L750.4,812.4 L753.4,815 L752.4,817.8 L745.4,817.4 Q742.4,814.6 743.4,811Z" fill="#fff" stroke="#1c1c1c" stroke-width="1.3" stroke-linejoin="round"/>
<ellipse cx="744.6" cy="813.8" rx="1.7" ry="2.3" fill="#333"/>
<path d="M749.6,812.6 L749,817.4" stroke="#1c1c1c" stroke-width="0.9"/>
</g><g class="n" stroke-width="0.95" stroke="#2a2a2a">
<line x1="490.5" y1="751.6" x2="474" y2="761.2"/>
<line x1="465" y1="766.4" x2="450.5" y2="774.8"/>
<line x1="445.5" y1="777.7" x2="431" y2="786.1"/>
<line x1="372" y1="820.3" x2="348.5" y2="833.9"/>
<line x1="339" y1="839.4" x2="330" y2="844.6"/>
<line x1="277" y1="875.3" x2="270" y2="879.4"/>
<line x1="257.5" y1="886.6" x2="253.5" y2="888.9"/>
<line x1="241" y1="896.2" x2="236" y2="899.1"/>
<line x1="214" y1="911.8" x2="206.5" y2="916.2"/>
<line x1="194.5" y1="923.1" x2="185" y2="928.6"/>
<line x1="160" y1="943.1" x2="145" y2="951.8"/>
<line x1="102" y1="976.7" x2="83" y2="987.7"/>
</g>
<ellipse cx="483.1" cy="756.7" rx="8.4" ry="11" fill="#ddd" stroke="#1c1c1c" stroke-width="1.5" transform="rotate(-22 483.1 756.7)"/>
<ellipse cx="482.0" cy="756.3" rx="7.6" ry="10.4" fill="#fff" stroke="#1c1c1c" stroke-width="1.6" transform="rotate(-22 482.0 756.3)"/>
<ellipse cx="482.3" cy="756.3" rx="4.8" ry="7.6" fill="#fff" stroke="#1c1c1c" stroke-width="1.2" transform="rotate(-22 482.3 756.3)"/>
<ellipse cx="457.8" cy="770.9" rx="6.5" ry="8.9" fill="#ddd" stroke="#1c1c1c" stroke-width="1.4" transform="rotate(-22 457.8 770.9)"/>
<ellipse cx="457.0" cy="770.5" rx="5.8" ry="8.3" fill="#fff" stroke="#1c1c1c" stroke-width="1.7" transform="rotate(-22 457.0 770.5)"/>
<ellipse cx="457.2" cy="770.7" rx="3.4" ry="5.8" fill="#fff" stroke="#1c1c1c" stroke-width="1.0" transform="rotate(-22 457.2 770.7)"/>
<ellipse cx="438.1" cy="781.9" rx="6.5" ry="8.1" fill="none" stroke="#1c1c1c" stroke-width="2.0" transform="rotate(-25 438.1 781.9)"/>
<line x1="478.1" y1="758.8" x2="486.5" y2="753.9" stroke="#2a2a2a" stroke-width="0.9"/>
<line x1="454.2" y1="772.6" x2="460.2" y2="769.2" stroke="#2a2a2a" stroke-width="0.9"/>
<ellipse cx="343.7" cy="836.1" rx="3.6" ry="4.7" fill="none" stroke="#1c1c1c" stroke-width="1.9" transform="rotate(-20 343.7 836.1)"/>
<ellipse cx="263.5" cy="882.9" rx="5.7" ry="6.7" fill="#cfcfcf" stroke="#1c1c1c" stroke-width="1.5" transform="rotate(-18 263.5 882.9)"/><ellipse cx="263.7" cy="883.0" rx="3.4000000000000004" ry="4.0" fill="#fff" stroke="#333" stroke-width="0.9" transform="rotate(-18 263.7 883.0)"/><ellipse cx="263.8" cy="883.1" rx="1.7" ry="2.3" fill="#fff" stroke="#1c1c1c" stroke-width="1.4" transform="rotate(-18 263.8 883.1)"/>
<ellipse cx="247.0" cy="892.5" rx="5.7" ry="6.7" fill="#cfcfcf" stroke="#1c1c1c" stroke-width="1.5" transform="rotate(-18 247.0 892.5)"/><ellipse cx="247.2" cy="892.6" rx="3.4000000000000004" ry="4.0" fill="#fff" stroke="#333" stroke-width="0.9" transform="rotate(-18 247.2 892.6)"/><ellipse cx="247.3" cy="892.7" rx="1.7" ry="2.3" fill="#fff" stroke="#1c1c1c" stroke-width="1.4" transform="rotate(-18 247.3 892.7)"/>
<ellipse cx="200.2" cy="919.6" rx="5.5" ry="6.6" fill="#cfcfcf" stroke="#1c1c1c" stroke-width="1.5" transform="rotate(-18 200.2 919.6)"/><ellipse cx="200.4" cy="919.7" rx="3.2" ry="3.8999999999999995" fill="#fff" stroke="#333" stroke-width="0.9" transform="rotate(-18 200.4 919.7)"/><ellipse cx="200.5" cy="919.8" rx="1.7" ry="2.3" fill="#fff" stroke="#1c1c1c" stroke-width="1.4" transform="rotate(-18 200.5 919.8)"/>
<g transform="translate(380.5,815.5) rotate(-30.1)">
<path d="M38,-8.6 L48,-8.2 Q52,0 48,8.2 L38,8.6Z" fill="#3a3a3a" stroke="#1c1c1c" stroke-width="1.3"/>
<path d="M41,-8 Q44.4,0 41,8 M44,-7.8 Q47.4,0 44,7.8" stroke="#aaa" stroke-width="0.7" fill="none"/>
<path d="M31,-6.6 L40,-6.6 L40,6.6 L31,6.6Z" fill="#fff" stroke="#1c1c1c" stroke-width="1.3"/>
<path d="M31,-1.6 L40,-1.6 M31,3 L40,3 M35.6,-6.6 L35.6,6.6" stroke="#1c1c1c" stroke-width="1.1" fill="none"/>
<path d="M24,-12.2 L31,-10.6 Q35,0 31,10.6 L24,12.2 Q28,0 24,-12.2Z" fill="#555" stroke="#1c1c1c" stroke-width="1.3"/>
<path d="M13,-12.4 L24,-12.2 Q28.4,0 24,12.2 L13,12.4 Q17.4,0 13,-12.4Z" fill="#2c2c2c" stroke="#1c1c1c" stroke-width="1.3"/>
<path d="M16.4,-8.6 Q19.8,0 17.4,9.6 M20.4,-8.4 Q23.8,0 21.4,9.4" stroke="#fff" stroke-width="1.6" fill="none"/>
<path d="M0,-12 L13.4,-12.4 Q17.8,0 13.4,12.4 L0,12Z" fill="#fff" stroke="#1c1c1c" stroke-width="1.4"/>
<path d="M0,-12 L13.4,-12.4" stroke="#1c1c1c" stroke-width="2.2"/>
<ellipse cx="0" cy="0" rx="6.6" ry="11.6" fill="#777" stroke="#1c1c1c" stroke-width="2.4"/>
<path d="M-4,-7 L4,-7.6 M-5.4,-3 L5.4,-3.6 M-5.6,1.6 L5.6,1 M-5,6 L5,5.4" stroke="#2a2a2a" stroke-width="1.2" fill="none"/>
</g>
<g transform="translate(277.4,873.2) rotate(-30.1)">
<path d="M50,-3.9 L58,-3.9 Q61.6,0 58,3.9 L50,3.9Z" fill="#fff" stroke="#1c1c1c" stroke-width="1.2"/>
<path d="M52.6,-3.9 Q54.6,0 52.6,3.9 M55.6,-3.8 Q57.6,0 55.6,3.8" stroke="#1c1c1c" stroke-width="1" fill="none"/>
<path d="M40,-3.9 L50,-3.9 L50,3.9 L40,3.9Z" fill="#444" stroke="#1c1c1c" stroke-width="1.2"/>
<path d="M42.4,-3.6 L43.2,3.6 M45,-3.6 L45.8,3.6 M47.6,-3.6 L48.4,3.6" stroke="#ccc" stroke-width="0.7" fill="none"/>
<path d="M29,-4.9 L40,-4.8 Q42,0 40,4.8 L29,4.9 Q27.4,0 29,-4.9Z" fill="#fff" stroke="#1c1c1c" stroke-width="1.3"/>
<path d="M31.4,-4.9 Q33.4,0 31.4,4.9 M33.6,-4.9 Q35.6,0 33.6,4.9" stroke="#1c1c1c" stroke-width="1.2" fill="none"/>
<path d="M0,-3.6 L29.4,-3.6 L29.4,3.6 L0,3.6 Q-2.6,0 0,-3.6Z" fill="#fff" stroke="#1c1c1c" stroke-width="1.2"/>
<ellipse cx="0.2" cy="0" rx="1.9" ry="3.6" fill="#fff" stroke="#1c1c1c" stroke-width="1.1"/>
<path d="M5.6,-3.4 Q7,-1.8 5.6,-0.2 M3.6,-1.6 L5.8,-1.6" stroke="#1c1c1c" stroke-width="0.9" fill="none"/>
</g>
<g transform="translate(224.6,905.3) rotate(-30.1)">
<path d="M-10.4,-5.8 L8.6,-5 Q11.4,0 8.6,5 L-10.4,5.8 Q-13,0 -10.4,-5.8Z" fill="#222" stroke="#1a1a1a" stroke-width="1"/>
<path d="M-7.6,-4.8 Q-5.0,0 -6.8,4.8" fill="none" stroke="#aaa" stroke-width="0.8"/><path d="M-4.2,-4.8 Q-1.6,0 -3.4000000000000004,4.8" fill="none" stroke="#aaa" stroke-width="0.8"/><path d="M-0.8,-4.8 Q1.8,0 0.0,4.8" fill="none" stroke="#aaa" stroke-width="0.8"/><path d="M2.6,-4.8 Q5.2,0 3.4000000000000004,4.8" fill="none" stroke="#aaa" stroke-width="0.8"/><path d="M5.6,-4.8 Q8.2,0 6.3999999999999995,4.8" fill="none" stroke="#aaa" stroke-width="0.8"/>
</g>
<g transform="translate(166.4,938.9) rotate(-30.1)">
<path d="M11,-9 L19,-8.6 Q22.4,0 19,8.6 L11,9Z" fill="#777" stroke="#1c1c1c" stroke-width="1.3"/>
<path d="M13.8,-8.8 Q16.6,0 13.8,8.8 M16.6,-8.6 Q19.4,0 16.6,8.6" stroke="#1c1c1c" stroke-width="1.1" fill="none"/>
<path d="M0,-11.8 L12,-11.6 Q15.6,0 12,11.6 L0,11.8Z" fill="#fff" stroke="#1c1c1c" stroke-width="1.3"/>
<path d="M2,-6 L13.4,-6 M2,6 L13.4,6" stroke="#1c1c1c" stroke-width="0.9" fill="none"/>
<ellipse cx="0" cy="0" rx="5" ry="11.8" fill="#fff" stroke="#1c1c1c" stroke-width="1.4"/>
<ellipse cx="0" cy="0.4" rx="1.9" ry="3.6" fill="#fff" stroke="#1c1c1c" stroke-width="1.1"/>
</g>
<g transform="translate(110.2,972.2) rotate(-30.1)">
<path d="M13,-17.6 L25,-17.2 Q34.6,-14 34.6,0 Q34.6,14 25,17.2 L13,17.6 Q6,0 13,-17.6Z" fill="#fff" stroke="#1c1c1c" stroke-width="1.3"/>
<path d="M17.6,-17.6 Q25.6,0 17.6,17.6" stroke="#1c1c1c" stroke-width="1.1" fill="none"/>
<path d="M13,-17.6 Q20.4,0 13,17.6" stroke="#1c1c1c" stroke-width="1.1" fill="none"/>
<path d="M0,-12.6 L12,-13 Q18.6,0 12,13 L0,12.6Z" fill="#fff" stroke="#1c1c1c" stroke-width="1.3"/>
<path d="M8,-12.9 Q14.6,0 8,12.9" stroke="#1c1c1c" stroke-width="1" fill="none"/>
<ellipse cx="0" cy="0" rx="7" ry="12.5" fill="#fff" stroke="#1c1c1c" stroke-width="1.8"/>
<path d="M-2.4,-11 L-2.2,11 M2.2,-11 L2.4,10.6 M-6.4,-3.6 L6.6,-4 M-6.6,3.2 L6.4,2.8" stroke="#1c1c1c" stroke-width="1.2" fill="none"/>
<path d="M-2.2,-3.6 L2.2,-3.8 L2.4,3 L-2.2,3.2Z" fill="#888" stroke="#1c1c1c" stroke-width="0.9"/>
<path d="M2.4,3 L6.2,2.8 Q5,8 2.4,10.4Z" fill="#aaa"/>
</g>
<line x1="63.2" y1="953" x2="63.6" y2="981" stroke-width="0.9" stroke="#333"/>
<path d="M61.2,932.6 Q63.1,930.6 65,932.6 L65,952.4 Q63.1,954.2 61.2,952.4Z" fill="#fff" stroke="#1c1c1c" stroke-width="1.2"/>
<line x1="63.8" y1="933" x2="63.8" y2="952.4" stroke-width="0.6" stroke="#666"/>
<path d="M53.3,986.2 Q58,981.6 63.8,980.4 Q68.4,979.6 72.5,980.4 Q78,982.4 81.3,989.1 Q83.6,993.6 86.5,997 Q91,1001.6 97,1005.8 Q102,1009 106.6,1011.9 Q107.4,1014.6 105.8,1016.3 Q102,1018.8 97,1020.6 L93.5,1021.6 Q89,1019.6 84.8,1018 Q80,1015.4 76,1014.5 Q71.6,1014.6 67.3,1016.3 Q62,1015.4 58.5,1012.8 Q54,1009 51.5,1004 Q49.4,999 49.8,993.5 Q50.6,989 53.3,986.2Z" fill="#fff" stroke="#1c1c1c" stroke-width="1.25" stroke-linejoin="round"/>
<path d="M53.3,986.2 Q58.4,987 62,990 Q66,993.6 69,998.8 Q72,1004 76,1007.5 Q82,1011 90,1012.8 Q98,1014.6 105.8,1016.3" fill="none" stroke="#1c1c1c" stroke-width="1.1"/>
<circle cx="63.6" cy="985" r="1.1" fill="#222"/>
<g class="ld">
<line x1="624.2" y1="63.3" x2="646.7" y2="50.7"/>
<line x1="644.4" y1="146.2" x2="668" y2="132.5"/>
<line x1="630" y1="274" x2="667.5" y2="252.8"/>
<line x1="628.5" y1="365.6" x2="667.5" y2="343"/>
<line x1="629" y1="539.6" x2="667.5" y2="517.5"/>
<line x1="643" y1="633.8" x2="667.5" y2="621.3"/>
<line x1="627.5" y1="685" x2="666" y2="663.8"/>
<line x1="520.5" y1="456.2" x2="549.3" y2="472.9"/>
<line x1="521.3" y1="559.4" x2="548.3" y2="575.7"/>
<line x1="517" y1="578.6" x2="548" y2="597.2"/>
<line x1="458.4" y1="629" x2="471" y2="637"/>
<line x1="465" y1="728.8" x2="475" y2="746"/>
<line x1="438" y1="733.8" x2="452.5" y2="760"/>
<line x1="417" y1="745" x2="432.5" y2="771"/>
<line x1="375" y1="771" x2="388" y2="793.8"/>
<line x1="323" y1="800.5" x2="340" y2="828.8"/>
<line x1="286.3" y1="820.5" x2="304.3" y2="851.3"/>
<line x1="243.8" y1="846.3" x2="260.5" y2="875"/>
<line x1="204.3" y1="868" x2="221.3" y2="898.8"/>
<line x1="180" y1="882" x2="196.6" y2="912"/>
<line x1="150.7" y1="902.6" x2="164.5" y2="924.6"/>
<line x1="109.5" y1="924.6" x2="120.5" y2="944"/>
<line x1="44" y1="941.7" x2="58.3" y2="935.6"/>
<line x1="44" y1="966" x2="53.6" y2="983.8"/>
<line x1="505" y1="805" x2="531" y2="791"/>
<line x1="519.5" y1="843" x2="549.5" y2="843"/>
<line x1="496" y1="895" x2="520.5" y2="895"/>
<line x1="650" y1="849" x2="678" y2="848"/>
<line x1="653.8" y1="915.3" x2="682.5" y2="914.6"/>
<line x1="688" y1="811" x2="708" y2="822"/>
<line x1="739" y1="771" x2="760" y2="758"/>
</g>
<g class="tx">
<path d="M651.60,49.85 L653.35,49.85 L653.35,58.60 L651.55,58.60 L651.55,52.30 Q650.95,52.90 650.05,53.15 L650.05,51.70 Q651.35,51.10 651.60,49.85Z"/><text transform="translate(653.60,58.6) scale(0.94,1)">0</text><text transform="translate(660.15,58.6) scale(0.94,1)">0</text>
<text transform="translate(671.70,135.2) scale(0.94,1)">9</text><text transform="translate(678.25,135.2) scale(0.94,1)">9</text>
<text transform="translate(669.90,256.9) scale(0.94,1)">9</text><text transform="translate(676.45,256.9) scale(0.94,1)">8</text>
<text transform="translate(670.90,345.0) scale(0.94,1)">9</text><text transform="translate(677.45,345.0) scale(0.94,1)">7</text>
<text transform="translate(670.90,521.3) scale(0.94,1)">9</text><text transform="translate(677.45,521.3) scale(0.94,1)">6</text>
<text transform="translate(672.10,622.5) scale(0.94,1)">9</text><text transform="translate(678.65,622.5) scale(0.94,1)">5</text>
<path d="M664.00,651.25 L665.75,651.25 L665.75,660.00 L663.95,660.00 L663.95,653.70 Q663.35,654.30 662.45,654.55 L662.45,653.10 Q663.75,652.50 664.00,651.25Z"/><text transform="translate(666.00,660.0) scale(0.94,1)">0</text><path d="M674.50,651.25 L676.25,651.25 L676.25,660.00 L674.45,660.00 L674.45,653.70 Q673.85,654.30 672.95,654.55 L672.95,653.10 Q674.25,652.50 674.50,651.25Z"/>
<path d="M728.00,413.55 L729.75,413.55 L729.75,422.30 L727.95,422.30 L727.95,416.00 Q727.35,416.60 726.45,416.85 L726.45,415.40 Q727.75,414.80 728.00,413.55Z"/><text transform="translate(730.00,422.3) scale(0.94,1)">0</text><text transform="translate(736.55,422.3) scale(0.94,1)">8</text>
<text transform="translate(503.90,457.8) scale(0.94,1)">4</text><text transform="translate(510.45,457.8) scale(0.94,1)">3</text>
<text transform="translate(505.80,556.5) scale(0.94,1)">4</text><text transform="translate(512.35,556.5) scale(0.94,1)">2</text>
<text transform="translate(502.50,577.6) scale(0.94,1)">4</text><path d="M511.00,568.85 L512.75,568.85 L512.75,577.60 L510.95,577.60 L510.95,571.30 Q510.35,571.90 509.45,572.15 L509.45,570.70 Q510.75,570.10 511.00,568.85Z"/>
<text transform="translate(439.60,632.4) scale(0.94,1)">9</text><text transform="translate(446.15,632.4) scale(0.94,1)">4</text>
<text transform="translate(449.60,726.9) scale(0.94,1)">9</text><text transform="translate(456.15,726.9) scale(0.94,1)">2</text>
<text transform="translate(424.60,732.4) scale(0.94,1)">9</text><path d="M433.10,723.65 L434.85,723.65 L434.85,732.40 L433.05,732.40 L433.05,726.10 Q432.45,726.70 431.55,726.95 L431.55,725.50 Q432.85,724.90 433.10,723.65Z"/>
<text transform="translate(401.60,746.0) scale(0.94,1)">9</text><text transform="translate(408.15,746.0) scale(0.94,1)">0</text>
<text transform="translate(359.60,769.5) scale(0.94,1)">8</text><text transform="translate(366.15,769.5) scale(0.94,1)">9</text>
<text transform="translate(309.10,798.8) scale(0.94,1)">8</text><text transform="translate(315.65,798.8) scale(0.94,1)">8</text>
<text transform="translate(273.30,818.8) scale(0.94,1)">8</text><text transform="translate(279.85,818.8) scale(0.94,1)">7</text>
<text transform="translate(228.90,845.8) scale(0.94,1)">8</text><text transform="translate(235.45,845.8) scale(0.94,1)">6</text>
<text transform="translate(189.10,867.5) scale(0.94,1)">8</text><text transform="translate(195.65,867.5) scale(0.94,1)">5</text>
<text transform="translate(164.60,881.5) scale(0.94,1)">8</text><text transform="translate(171.15,881.5) scale(0.94,1)">4</text>
<text transform="translate(134.90,901.8) scale(0.94,1)">8</text><text transform="translate(141.45,901.8) scale(0.94,1)">3</text>
<text transform="translate(94.60,923.8) scale(0.94,1)">8</text><text transform="translate(101.15,923.8) scale(0.94,1)">2</text>
<text transform="translate(27.90,944.0) scale(0.94,1)">8</text><path d="M36.40,935.25 L38.15,935.25 L38.15,944.00 L36.35,944.00 L36.35,937.70 Q35.75,938.30 34.85,938.55 L34.85,937.10 Q36.15,936.50 36.40,935.25Z"/>
<text transform="translate(28.60,966.0) scale(0.94,1)">8</text><text transform="translate(35.15,966.0) scale(0.94,1)">0</text>
<path d="M488.60,809.25 L490.35,809.25 L490.35,818.00 L488.55,818.00 L488.55,811.70 Q487.95,812.30 487.05,812.55 L487.05,811.10 Q488.35,810.50 488.60,809.25Z"/><text transform="translate(490.60,818.0) scale(0.94,1)">0</text><text transform="translate(497.15,818.0) scale(0.94,1)">0</text>
<path d="M497.60,839.25 L499.35,839.25 L499.35,848.00 L497.55,848.00 L497.55,841.70 Q496.95,842.30 496.05,842.55 L496.05,841.10 Q497.35,840.50 497.60,839.25Z"/><text transform="translate(499.60,848.0) scale(0.94,1)">0</text><text transform="translate(506.15,848.0) scale(0.94,1)">7</text>
<path d="M476.20,890.25 L477.95,890.25 L477.95,899.00 L476.15,899.00 L476.15,892.70 Q475.55,893.30 474.65,893.55 L474.65,892.10 Q475.95,891.50 476.20,890.25Z"/><text transform="translate(478.20,899.0) scale(0.94,1)">0</text><text transform="translate(484.75,899.0) scale(0.94,1)">6</text>
<path d="M684.00,842.25 L685.75,842.25 L685.75,851.00 L683.95,851.00 L683.95,844.70 Q683.35,845.30 682.45,845.55 L682.45,844.10 Q683.75,843.50 684.00,842.25Z"/><text transform="translate(686.00,851.0) scale(0.94,1)">0</text><text transform="translate(692.55,851.0) scale(0.94,1)">5</text>
<path d="M688.60,910.05 L690.35,910.05 L690.35,918.80 L688.55,918.80 L688.55,912.50 Q687.95,913.10 687.05,913.35 L687.05,911.90 Q688.35,911.30 688.60,910.05Z"/><text transform="translate(690.60,918.8) scale(0.94,1)">0</text><text transform="translate(697.15,918.8) scale(0.94,1)">4</text>
<path d="M708.60,823.65 L710.35,823.65 L710.35,832.40 L708.55,832.40 L708.55,826.10 Q707.95,826.70 707.05,826.95 L707.05,825.50 Q708.35,824.90 708.60,823.65Z"/><text transform="translate(710.60,832.4) scale(0.94,1)">0</text><text transform="translate(717.15,832.4) scale(0.94,1)">3</text>
<path d="M748.60,747.25 L750.35,747.25 L750.35,756.00 L748.55,756.00 L748.55,749.70 Q747.95,750.30 747.05,750.55 L747.05,749.10 Q748.35,748.50 748.60,747.25Z"/><text transform="translate(750.60,756.0) scale(0.94,1)">0</text><text transform="translate(757.15,756.0) scale(0.94,1)">2</text>
<g transform="translate(223.3,769.7) rotate(-30)"><text transform="translate(-0.40,0) scale(0.94,1)">9</text><text transform="translate(6.15,0) scale(0.94,1)">3</text></g>
</g>
</svg>
</body></html>
